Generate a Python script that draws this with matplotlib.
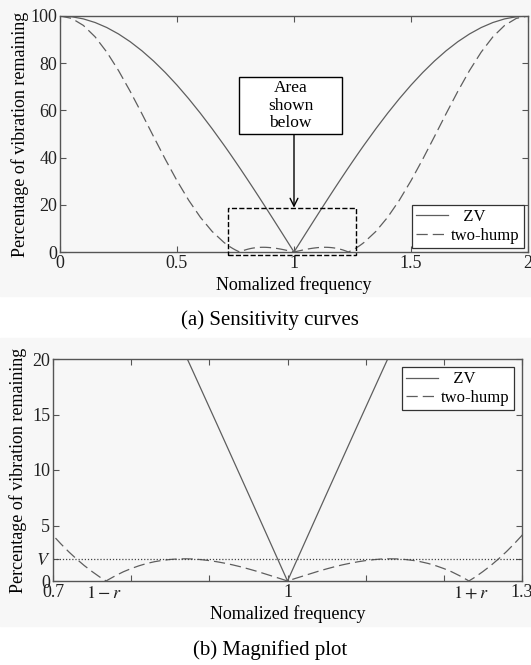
import matplotlib
matplotlib.use("Agg")
import matplotlib.pyplot as plt
from matplotlib.patches import Rectangle

# normalized frequency samples (denser around the design frequency)
freq = [0.00, 0.05, 0.10, 0.15, 0.20, 0.25, 0.30, 0.35, 0.40, 0.45, 0.50, 0.55, 0.60, 0.65,
        0.70, 0.71, 0.72, 0.73, 0.74, 0.75, 0.76, 0.768, 0.77, 0.78, 0.79, 0.80, 0.81, 0.82,
        0.83, 0.84, 0.85, 0.86, 0.87, 0.88, 0.89, 0.90, 0.91, 0.92, 0.93, 0.94, 0.95, 0.96,
        0.97, 0.98, 0.99, 1.00,
        1.01, 1.02, 1.03, 1.04, 1.05, 1.06, 1.07, 1.08, 1.09, 1.10, 1.11, 1.12, 1.13, 1.14,
        1.15, 1.16, 1.17, 1.18, 1.19, 1.20, 1.21, 1.22, 1.23, 1.232, 1.24, 1.25, 1.26, 1.27,
        1.28, 1.29, 1.30, 1.35, 1.40, 1.45, 1.50, 1.55, 1.60, 1.65, 1.70, 1.75, 1.80, 1.85,
        1.90, 1.95, 2.00]

zv = [100, 99.69, 98.77, 97.24, 95.11, 92.39, 89.10, 85.26, 80.90, 76.04, 70.71, 64.94, 58.78, 52.25,
      45.40, 44.00, 42.58, 41.16, 39.71, 38.27, 36.81, 35.64, 35.36, 33.87, 32.39, 30.90, 29.40, 27.90,
      26.39, 24.87, 23.35, 21.81, 20.28, 18.74, 17.19, 15.64, 14.09, 12.53, 10.97, 9.41, 7.85, 6.28,
      4.71, 3.14, 1.57, 0.0,
      1.57, 3.14, 4.71, 6.28, 7.85, 9.41, 10.97, 12.53, 14.09, 15.64, 17.19, 18.74, 20.28, 21.81,
      23.35, 24.87, 26.39, 27.90, 29.40, 30.90, 32.39, 33.87, 35.36, 35.64, 36.81, 38.27, 39.71, 41.16,
      42.58, 44.00, 45.40, 52.25, 58.78, 64.94, 70.71, 76.04, 80.90, 85.26, 89.10, 92.39, 95.11, 97.24,
      98.77, 99.69, 100]

two_hump = [100, 98.99, 96.00, 91.17, 84.70, 76.89, 68.06, 58.60, 48.88, 39.30, 30.21, 21.92, 14.70, 8.73,
            4.11, 3.35, 2.64, 1.99, 1.39, 0.85, 0.35, 0.0, 0.09, 0.48, 0.83, 1.12, 1.37, 1.58,
            1.74, 1.86, 1.94, 1.99, 2.00, 1.98, 1.92, 1.84, 1.73, 1.60, 1.45, 1.28, 1.09, 0.89,
            0.67, 0.45, 0.23, 0.0,
            0.23, 0.45, 0.67, 0.89, 1.09, 1.28, 1.45, 1.60, 1.73, 1.84, 1.92, 1.98, 2.00, 1.99,
            1.94, 1.86, 1.74, 1.58, 1.37, 1.12, 0.83, 0.48, 0.09, 0.0, 0.35, 0.85, 1.39, 1.99,
            2.64, 3.35, 4.11, 8.73, 14.70, 21.92, 30.21, 39.30, 48.88, 58.60, 68.06, 76.89, 84.70, 91.17,
            96.00, 98.99, 100]

V_level = 2.0

plt.rcParams['font.family'] = ['Liberation Serif', 'DejaVu Serif']
plt.rcParams['mathtext.fontset'] = 'stix'
plt.rcParams['font.size'] = 13

line_col = '#5e5e5e'
spine_col = '#555555'
panel_col = '#f7f7f7'

fig = plt.figure(figsize=(5.31, 6.65), dpi=100)
fig.patch.set_facecolor('white')
# light grey panels behind each plot
fig.patches.append(Rectangle((0, 1 - 296 / 665), 1, 296 / 665, transform=fig.transFigure,
                             color=panel_col, zorder=-10))
fig.patches.append(Rectangle((0, 1 - 626 / 665), 1, (626 - 338) / 665, transform=fig.transFigure,
                             color=panel_col, zorder=-10))


def style(ax):
    ax.set_facecolor(panel_col)
    for s in ax.spines.values():
        s.set_color(spine_col)
        s.set_linewidth(1.0)
    ax.tick_params(direction='in', top=True, right=True, length=4, width=0.8,
                   colors=spine_col, labelcolor='#222222', labelsize=13, pad=2)


def legend(ax, loc, pad):
    leg = ax.legend(loc=loc, fontsize=12, handlelength=1.9, handletextpad=0.2,
                    borderaxespad=pad, fancybox=False, framealpha=1, borderpad=0.25,
                    labelspacing=0.15)
    leg.get_frame().set_edgecolor('#333333')
    leg.get_frame().set_linewidth(0.9)
    return leg


# (a) sensitivity curves
ax1 = fig.add_axes([60 / 531, 1 - 252 / 665, 468 / 531, 236 / 665])
style(ax1)
ax1.plot(freq, zv, color=line_col, lw=0.9, label='   ZV')
ax1.plot(freq, two_hump, color=line_col, lw=0.9, dashes=(9, 4), label='two-hump')
ax1.set_xlim(0, 2)
ax1.set_ylim(0, 100)
ax1.set_xticks([0, 0.5, 1, 1.5, 2])
ax1.set_xticklabels(['0', '0.5', '1', '1.5', '2'])
ax1.set_yticks([0, 20, 40, 60, 80, 100])
ax1.set_xlabel('Nomalized frequency', fontsize=13, labelpad=3)
ax1.set_ylabel('Percentage of vibration remaining', fontsize=13, labelpad=1)
ax1.add_patch(Rectangle((0.72, -1.4), 0.545, 20.0, fill=False, ls='--', lw=1.0,
                        ec='black', clip_on=False, zorder=5))
ax1.add_patch(Rectangle((0.765, 50), 0.44, 24.2, fc='white', ec='black', lw=1.0, zorder=6))
ax1.text(0.985, 62, 'Area\nshown\nbelow', ha='center', va='center', fontsize=12.5,
         linespacing=1.15, zorder=7)
ax1.annotate('', xy=(1.0, 18.8), xytext=(1.0, 50),
             arrowprops=dict(arrowstyle='->', color='black', lw=1.0, shrinkA=0, shrinkB=0,
                             mutation_scale=14))
legend(ax1, 'lower right', 0.25)
fig.text(270 / 531, 1 - 320 / 665, '(a) Sensitivity curves', ha='center', va='center', fontsize=15)

# (b) magnified plot
ax2 = fig.add_axes([53 / 531, 1 - 581 / 665, 469 / 531, 222 / 665])
style(ax2)
ax2.plot(freq, zv, color=line_col, lw=0.9, label='   ZV')
ax2.plot(freq, two_hump, color=line_col, lw=0.9, dashes=(9, 4), label='two-hump')
ax2.axhline(V_level, color='#444444', lw=0.9, ls=(0, (1, 1.5)))
ax2.set_xlim(0.7, 1.3)
ax2.set_ylim(0, 20)
ax2.set_xticks([0.7, 0.8, 0.9, 1.0, 1.1, 1.2, 1.3])
ax2.set_xticklabels(['0.7', '', '', '1', '', '', '1.3'])
ax2.set_xticks([0.765, 1.235], minor=True)
ax2.set_xticklabels(['$1-r$', '$1+r$'], minor=True)
ax2.tick_params(axis='x', which='minor', length=0, labelsize=13, pad=3, labelcolor='#222222')
ax2.set_yticks([0, V_level, 5, 10, 15, 20])
ax2.set_yticklabels(['0', '$V$', '5', '10', '15', '20'])
ax2.set_xlabel('Nomalized frequency', fontsize=13, labelpad=2)
ax2.set_ylabel('Percentage of vibration remaining', fontsize=13, labelpad=4)
legend(ax2, 'upper right', 0.5)
fig.text(270 / 531, 1 - 650 / 665, '(b) Magnified plot', ha='center', va='center', fontsize=15)

fig.savefig('out.png', dpi=100, facecolor=fig.get_facecolor())
